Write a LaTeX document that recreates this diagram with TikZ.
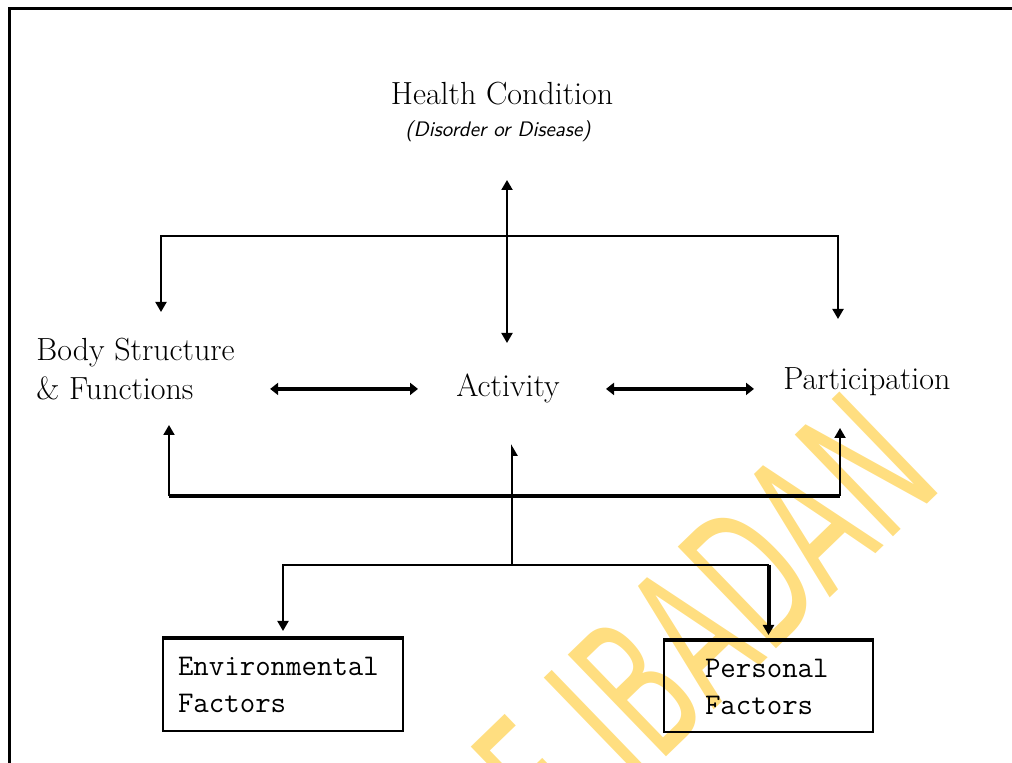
\documentclass[tikz,border=0pt]{standalone}
\usepackage{fontspec}
\usepackage{tikz}
\usetikzlibrary{arrows.meta}
\usetikzlibrary{positioning}
\definecolor{wmyellow}{RGB}{255,222,128}
\newfontfamily\wmfont{DejaVu Sans}

\begin{document}
\begin{tikzpicture}[x=0.5pt, y=-0.5pt,
  every node/.style={inner sep=0pt},
  lbl/.style={font=\fontsize{16}{19.5}\selectfont},
  sub/.style={font=\sffamily\itshape\fontsize{10.5}{12}\selectfont},
  fbox/.style={draw, line width=1pt, font=\ttfamily\fontsize{15}{18.5}\selectfont, align=left},
  arr/.style={line width=1pt, -{Triangle[length=5pt,width=5.5pt]}},
  arrtwo/.style={line width=1pt, {Triangle[length=5pt,width=5.5pt]}-{Triangle[length=5pt,width=5.5pt]}},
  dbl/.style={line width=2pt, {Triangle[length=4pt,width=6pt]}-{Triangle[length=4pt,width=6pt]}}]
\useasboundingbox (0,0) rectangle (1012,763);

% watermark
\begin{scope}
\clip (0,0) rectangle (1012,763);
\node[text=wmyellow, font=\wmfont\fontsize{97}{97}\selectfont, anchor=base east, rotate=44, xscale=0.58] (wm) at (946,486) {F IBADAN};
\end{scope}

% frame
\draw[line width=1.5pt] (9,763) -- (9,9) -- (1012,9);

\node[lbl, anchor=base] (hc) at (502,105) {Health Condition};
\node[sub, below=7pt of hc, xshift=-2pt] (dis) {(Disorder or Disease)};
\node[lbl, anchor=north west, align=left] (bsf) at (36,338) {Body Structure\\\& Functions};
\node[lbl, anchor=base west] (act) at (456,397) {Activity};
\node[lbl, anchor=base west] (par) at (783,390) {Participation};
\node[fbox, text width=105pt, inner xsep=7.5pt, minimum height=46pt] (env) at (283,685) {Environmental\\Factors};
\node[fbox, text width=63.5pt, inner xsep=20.5pt, minimum height=45.5pt] (pers) at (768.5,686.5) {Personal\\Factors};
\draw[line width=2pt] (env.north west) -- (env.north east);
\draw[line width=2pt] (pers.north west) -- (pers.north east);

% ends of the connectors
\coordinate (hcend) at (507,180);
\coordinate (actend) at (507,343);
\coordinate (topbar) at (507,236);
\coordinate (bsfin) at (161,312);
\coordinate (parin) at (838,319);
\coordinate (bsfout) at (169,425);
\coordinate (parout) at (840,428);
\coordinate (botbar) at (512,496);
\coordinate (actout) at (512,444);
\coordinate (fork) at (512,565);

\draw[arrtwo] (hcend) -- (actend);
\draw[arr] (topbar) -| (bsfin);
\draw[arr] (topbar) -| (parin);
\draw[dbl, shorten <=17.5pt, shorten >=19pt] (bsf.east |- act.west) -- (act.west);
\draw[dbl, shorten <=23pt, shorten >=14.5pt] (act.east) -- (act.east -| par.west);

\draw[line width=2pt] (bsfout |- botbar) -- (parout |- botbar);
\draw[arr] (bsfout |- botbar) -- (bsfout);
\draw[arr] (parout |- botbar) -- (parout);
\draw[line width=1pt, -{Triangle[length=5pt,width=5.5pt,harpoon,swap]}] (fork) -- (actout);
\draw[arr, shorten >=3.5pt] (fork) -| (env.north);
\draw[line width=1pt] (fork) -- (fork -| pers.north);
\draw[arr, line width=2pt, shorten >=2.5pt] (fork -| pers.north) -- (pers.north);
\end{tikzpicture}
\end{document}
